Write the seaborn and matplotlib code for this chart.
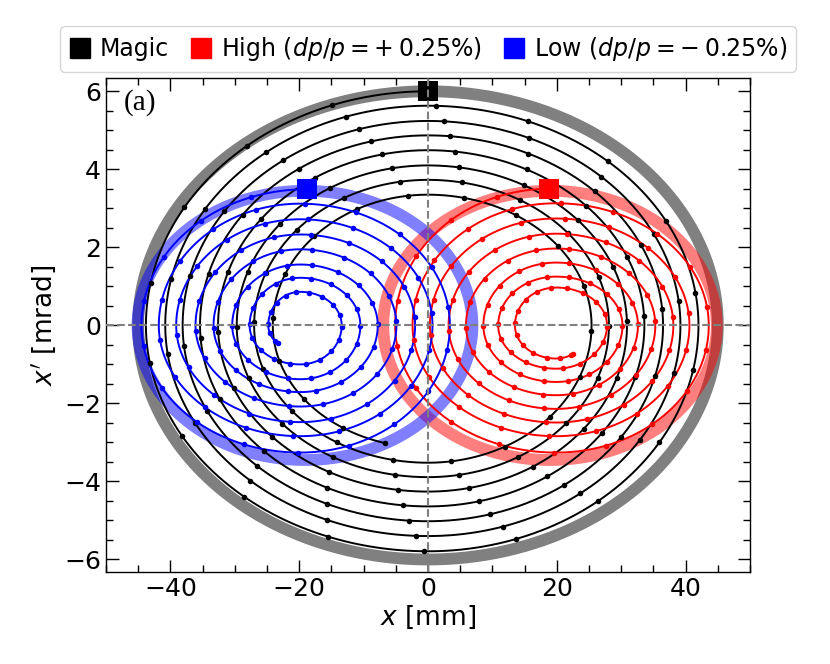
import numpy as np
import pandas as pd
import seaborn as sns
import matplotlib
matplotlib.use("Agg")
import matplotlib.pyplot as plt
from matplotlib.lines import Line2D

# ---------------- data ----------------
series_names = ["Magic", "High", "Low"]
series_colors = ["black", "red", "blue"]
legend_labels = ["Magic", r"High ($dp/p = +\:0.25\%$)", r"Low ($dp/p = -\:0.25\%$)"]

# start points (squares)
start_x = [0.0, 18.8, -18.8]
start_y = [6.0, 3.5, 3.5]

# spiral centres (x at top/bottom turning points)
center_x = [0.0, 19.9, -19.85]

# Magic (black) turning points, counter-clockwise from the start
magic_top_y = [6.00, 5.63, 5.24, 4.87, 4.49, 4.10, 3.73, 3.35]
magic_left_x = [-43.8, -40.8, -38.1, -35.4, -32.6, -29.7, -27.0, -24.1]
magic_bottom_y = [-5.79, -5.40, -5.02, -4.64, -4.26, -3.89, -3.52, -3.14]
magic_right_x = [42.0, 39.2, 36.5, 33.6, 30.9, 28.1, 25.4]

# High (red)
high_top_y = [3.50, 3.13, 2.74, 2.35, 1.97, 1.61, 1.25, 0.97]
high_left_x = [-5.1, -2.4, 0.3, 3.2, 5.9, 8.6, 10.9, 13.5]
high_bottom_y = [-3.26, -2.84, -2.49, -2.14, -1.79, -1.45, -1.11, -0.85]
high_right_x = [43.6, 40.6, 38.1, 35.3, 32.6, 30.2, 27.8, 25.0]

# Low (blue)
low_top_y = [3.49, 3.12, 2.72, 2.33, 1.95, 1.56, 1.22, 0.86]
low_left_x = [-44.5, -41.8, -39.1, -36.1, -33.3, -30.4, -27.7, -24.8]
low_bottom_y = [-3.26, -2.84, -2.48, -2.08, -1.71, -1.38, -1.00, -0.65]
low_right_x = [3.4, 0.7, -2.0, -4.9, -7.8, -10.5, -13.4]

# total phase (deg) travelled by each spiral and sampling step of the dots
end_phase = [2684, 2731, 2655]
dot_step = 19.9

# acceptance ellipses (thick bands)
band_cx = [0.0, 18.95, -19.1]
band_a = [45.0, 25.9, 26.0]
band_b = [6.0, 3.45, 3.45]
band_colors = ["gray", "red", "blue"]
band_alpha = [1.0, 0.5, 0.5]

x_ticks = [-40, -20, 0, 20, 40]
y_ticks = [-6, -4, -2, 0, 2, 4, 6]

# ---------------- helpers ----------------
def turning_points(sx, cx, top_y, left_x, bottom_y, right_x):
    pts = []
    for k in range(len(top_y)):
        pts.append((sx if k == 0 else cx, top_y[k]))
        if k < len(left_x):
            pts.append((left_x[k], 0.0))
        if k < len(bottom_y):
            pts.append((cx, bottom_y[k]))
        if k < len(right_x):
            pts.append((right_x[k], 0.0))
    return np.array(pts)


def spiral_xy(P, theta):
    theta = np.asarray(theta, dtype=float)
    j = np.floor(theta / 90.0).astype(int)
    j = np.clip(j, 0, len(P) - 2)
    phi = np.radians(theta - 90.0 * j)
    a = P[j]
    b = P[j + 1]
    even = (j % 2 == 0)
    V = np.where(even[:, None], a, b)
    H = np.where(even[:, None], b, a)
    s = np.where(even, np.sin(phi), np.cos(phi))
    c = np.where(even, np.cos(phi), np.sin(phi))
    x = V[:, 0] + (H[:, 0] - V[:, 0]) * s
    y = V[:, 1] * c
    return x, y


spiral_data = [
    (magic_top_y, magic_left_x, magic_bottom_y, magic_right_x),
    (high_top_y, high_left_x, high_bottom_y, high_right_x),
    (low_top_y, low_left_x, low_bottom_y, low_right_x),
]

# ---------------- figure ----------------
sns.set_style("ticks")
plt.rcParams["font.family"] = ["DejaVu Sans"]
plt.rcParams["mathtext.fontset"] = "dejavusans"
for key in ["text.color", "axes.labelcolor", "xtick.color", "ytick.color",
            "axes.edgecolor"]:
    plt.rcParams[key] = "black"

fig = plt.figure(figsize=(8.3, 6.64), dpi=100)
ax = fig.add_axes([0.1277, 0.1386, 0.9036 - 0.1277, 0.8825 - 0.1386])

# thick ellipses
tt = np.linspace(0, 2 * np.pi, 721)
for i in range(3):
    bx = band_cx[i] + band_a[i] * np.sin(tt)
    by = band_b[i] * np.cos(tt)
    sns.lineplot(x=bx, y=by, sort=False, estimator=None, color=band_colors[i],
                 alpha=band_alpha[i], lw=8.5, ax=ax, zorder=1 + 0.1 * i)

# spirals
for i in range(3):
    top_y, left_x, bottom_y, right_x = spiral_data[i]
    P = turning_points(start_x[i], center_x[i], top_y, left_x, bottom_y, right_x)
    th = np.linspace(0, end_phase[i], 5000)
    xs, ys = spiral_xy(P, th)
    sns.lineplot(x=xs, y=ys, sort=False, estimator=None, color=series_colors[i],
                 lw=1.4, ax=ax, zorder=2)
    thd = np.append(np.arange(dot_step, end_phase[i], dot_step), end_phase[i])
    xd, yd = spiral_xy(P, thd)
    sns.scatterplot(x=xd, y=yd, color=series_colors[i], s=16, linewidth=0,
                    ax=ax, zorder=3)

# start squares
df_start = pd.DataFrame({"x": start_x, "y": start_y, "name": series_names})
sns.scatterplot(data=df_start, x="x", y="y", hue="name", palette=series_colors,
                marker="s", s=200, linewidth=0, ax=ax, zorder=4, legend=False)

ax.axhline(0, color="gray", ls="--", lw=1.5, zorder=6)
ax.axvline(0, color="gray", ls="--", lw=1.5, zorder=6)

ax.set_xlim(-50, 50)
ax.set_ylim(-6.32, 6.34)
ax.set_xticks(x_ticks)
ax.set_yticks(y_ticks)
ax.xaxis.set_minor_locator(matplotlib.ticker.MultipleLocator(5))
ax.yaxis.set_minor_locator(matplotlib.ticker.MultipleLocator(0.5))
ax.tick_params(which="both", direction="in", top=True, right=True, width=1.0)
ax.tick_params(which="major", length=9, labelsize=18)
ax.tick_params(which="minor", length=5)
for sp in ax.spines.values():
    sp.set_linewidth(1.0)

ax.set_xlabel(r"$x$ [mm]", fontsize=19, labelpad=2)
ax.set_ylabel(r"$x'$ [mrad]", fontsize=19, labelpad=4)

ax.text(0.028, 0.95, "(a)", transform=ax.transAxes, ha="left", va="center",
        fontsize=21, family=["Liberation Serif", "DejaVu Serif"])

handles = [Line2D([], [], marker="s", ls="", color=c, ms=14) for c in series_colors]
leg = ax.legend(handles, legend_labels, loc="lower center", bbox_to_anchor=(0.5, 1.003),
                ncol=3, fontsize=17, frameon=True, fancybox=True, handlelength=0.9,
                handletextpad=0.4, columnspacing=0.9, borderpad=0.38,
                borderaxespad=0.2)
leg.get_frame().set_edgecolor("#cccccc")
leg.get_frame().set_linewidth(1.0)

fig.savefig("out.png", dpi=100)
